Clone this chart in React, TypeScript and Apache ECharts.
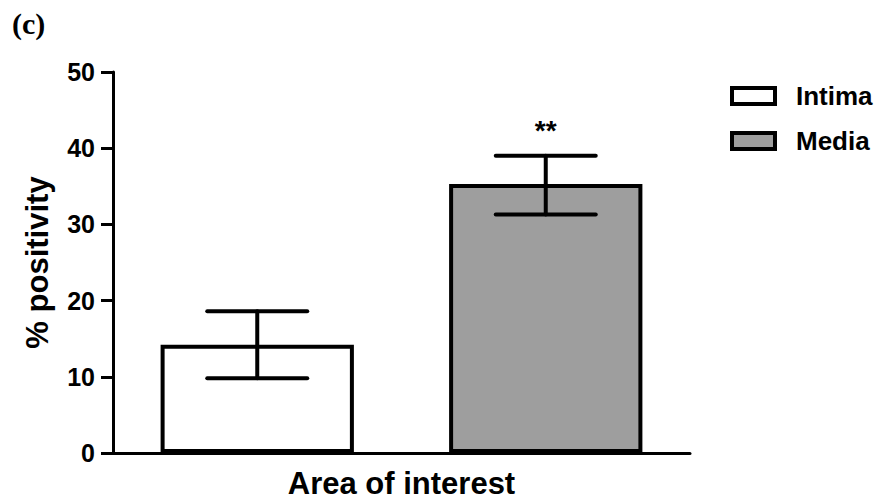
import React, { useEffect, useRef } from "react";
import * as echarts from "echarts";

const categories = ["Intima", "Media"];
const means = [14.2, 35.3];
const errLow = [9.8, 31.3];
const errHigh = [18.6, 39.0];
const significance = ["", "**"];
const yTicks = [0, 10, 20, 30, 40, 50];
const fillColors = ["#ffffff", "#9e9e9e"];

const FONT = "'Liberation Sans', Arial, sans-serif";

export default function App() {
  const ref = useRef<HTMLDivElement>(null);
  useEffect(() => {
    if (!ref.current) return;
    const chart = echarts.init(ref.current, undefined, { renderer: "svg" });
    const barSeries = categories.map((name, i) => ({
      name,
      type: "bar",
      barWidth: "67%",
      barGap: "-100%",
      data: categories.map((_, j) => (j === i ? means[j] : "-")),
      itemStyle: { color: fillColors[i], borderColor: "#000", borderWidth: 4 },
      z: 2,
    }));
    const option = {
      animation: false,
      backgroundColor: "#ffffff",
      grid: { left: 113, right: 189, top: 72, bottom: 48, containLabel: false },
      graphic: [
        {
          type: "text",
          left: 12,
          top: 8,
          style: { text: "(c)", font: "bold 30px 'Liberation Serif', 'Times New Roman', serif", fill: "#000" },
        },
      ],
      legend: {
        data: categories,
        orient: "vertical",
        left: 725,
        top: 78,
        itemWidth: 43,
        itemHeight: 16,
        itemGap: 19,
        icon: "rect",
        itemStyle: { borderColor: "#000", borderWidth: 4 },
        textStyle: {
          fontFamily: FONT,
          fontWeight: "bold",
          fontSize: 26,
          color: "#000",
          padding: [0, 0, 0, 16],
        },
      },
      xAxis: {
        type: "category",
        data: categories,
        name: "Area of interest",
        nameLocation: "middle",
        nameGap: 15,
        nameTextStyle: { fontFamily: FONT, fontWeight: "bold", fontSize: 31, color: "#000" },
        axisLine: { show: true, lineStyle: { color: "#000", width: 3 } },
        axisTick: { show: false },
        axisLabel: { show: false },
      },
      yAxis: {
        type: "value",
        min: 0,
        max: 50,
        interval: 10,
        name: "% positivity",
        nameLocation: "middle",
        nameGap: 60,
        nameTextStyle: { fontFamily: FONT, fontWeight: "bold", fontSize: 31, color: "#000" },
        axisLine: { show: true, lineStyle: { color: "#000", width: 3 } },
        axisTick: { show: true, length: 12, lineStyle: { color: "#000", width: 3 } },
        axisLabel: {
          fontFamily: FONT,
          fontWeight: "bold",
          fontSize: 25,
          color: "#000",
          margin: 18,
          formatter: (v: number) => (yTicks.includes(v) ? String(v) : ""),
        },
        splitLine: { show: false },
      },
      series: [
        ...barSeries,
        {
          type: "custom",
          name: "err",
          z: 5,
          data: categories.map((_, i) => [i, errLow[i], errHigh[i]]),
          renderItem: (params: any, api: any) => {
            const idx = api.value(0);
            const lo = api.coord([idx, api.value(1)]);
            const hi = api.coord([idx, api.value(2)]);
            const half = 50;
            const st = { stroke: "#000", lineWidth: 4, lineCap: "round" };
            const children: any[] = [
              { type: "line", shape: { x1: lo[0], y1: lo[1], x2: hi[0], y2: hi[1] }, style: st },
              { type: "line", shape: { x1: lo[0] - half, y1: lo[1], x2: lo[0] + half, y2: lo[1] }, style: st },
              { type: "line", shape: { x1: hi[0] - half, y1: hi[1], x2: hi[0] + half, y2: hi[1] }, style: st },
            ];
            const sig = significance[params.dataIndex];
            if (sig) {
              children.push({
                type: "text",
                style: {
                  text: sig,
                  x: hi[0],
                  y: hi[1] - 25,
                  align: "center",
                  verticalAlign: "middle",
                  font: "bold 28px " + FONT,
                  fill: "#000",
                },
              });
            }
            return { type: "group", children };
          },
        },
      ],
    };
    chart.setOption(option as any);
    return () => chart.dispose();
  }, []);
  return <div ref={ref} style={{ width: 879, height: 504, position: "absolute", left: 0, top: 0 }} />;
}
